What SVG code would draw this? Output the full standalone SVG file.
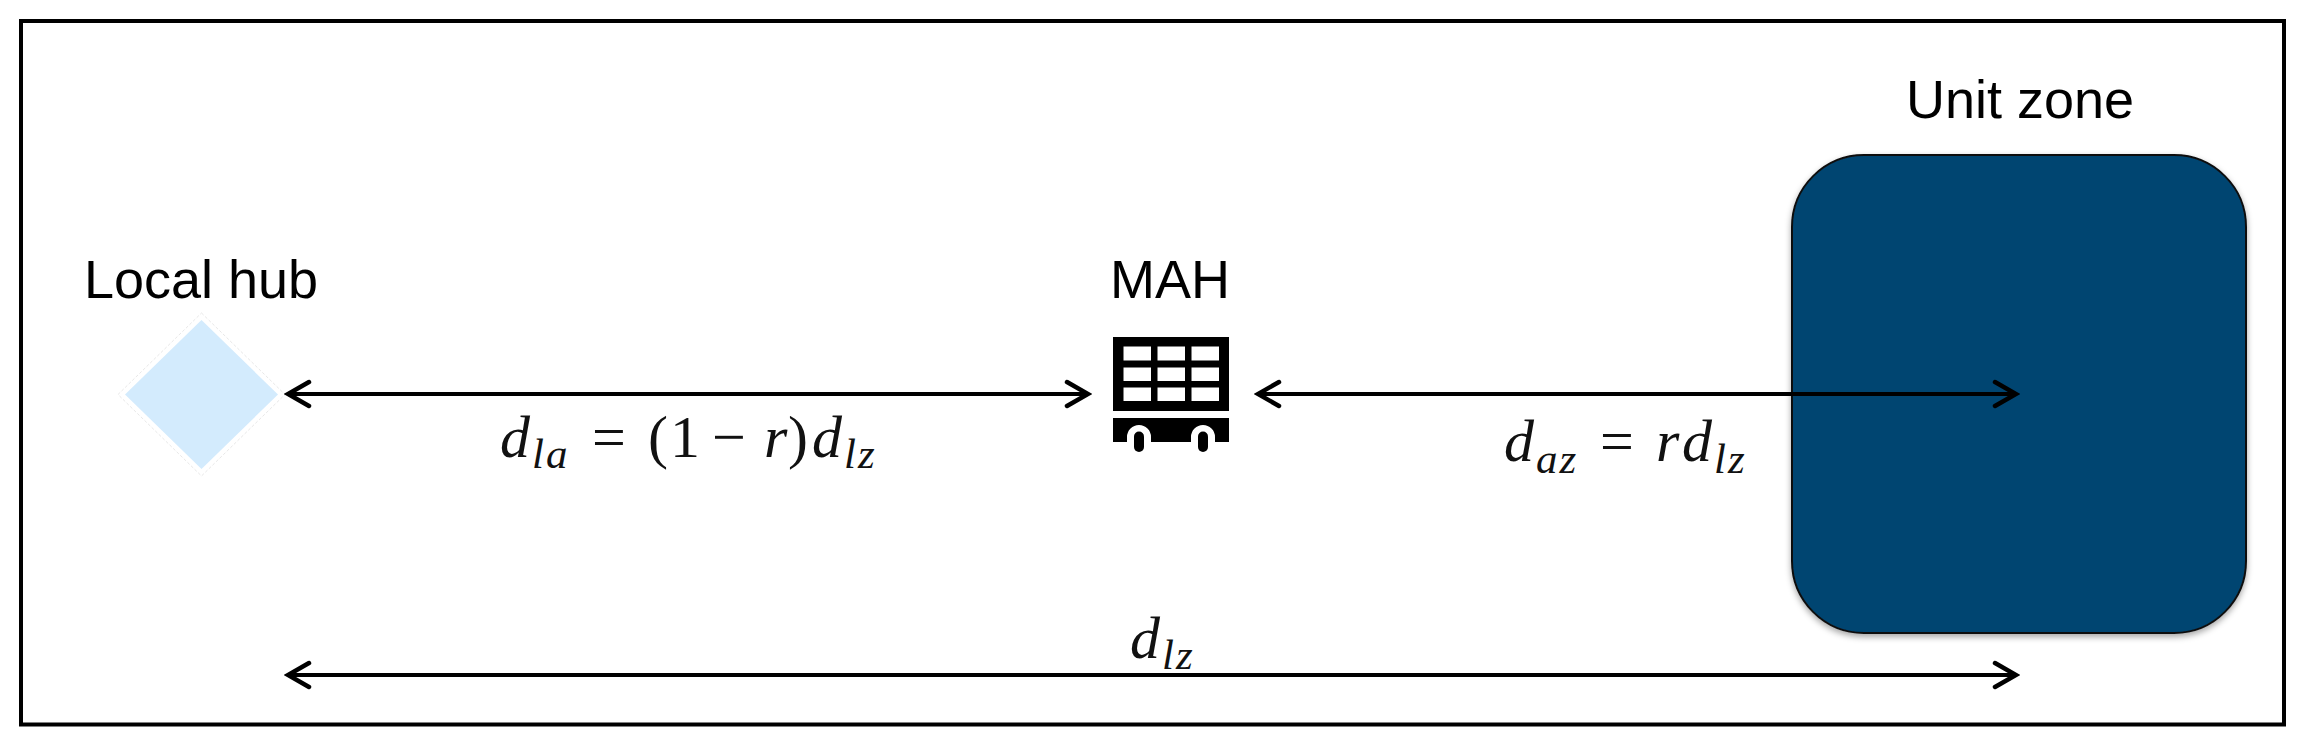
<svg xmlns="http://www.w3.org/2000/svg" width="2298" height="745" viewBox="0 0 2298 745">
<style>
.lbl{font-family:"Liberation Sans",Arial,sans-serif;font-size:54px;fill:#000;text-anchor:middle}
.m{font-family:"Liberation Serif","Times New Roman",serif;font-style:italic;font-size:60px;fill:#111}
.s{font-family:"Liberation Serif","Times New Roman",serif;font-style:italic;font-size:43px;letter-spacing:2px;fill:#111}
.u{font-family:"Liberation Serif","Times New Roman",serif;font-size:60px;fill:#111}
.c{fill:none;stroke:#000;stroke-width:4;marker-start:url(#h);marker-end:url(#h)}
</style>
<defs>
<marker id="h" viewBox="-26 -15 30 30" refX="0" refY="0" markerWidth="30" markerHeight="30" markerUnits="userSpaceOnUse" orient="auto-start-reverse">
<path d="M-21,-12 L0,0 L-21,12" fill="none" stroke="#000" stroke-width="4.5" stroke-linecap="round" stroke-linejoin="miter"/>
</marker>
<filter id="sh" x="-5%" y="-5%" width="110%" height="110%">
<feDropShadow dx="0" dy="3" stdDeviation="3" flood-color="#000" flood-opacity="0.35"/>
</filter>
</defs>
<rect width="2298" height="745" fill="#fff"/>
<rect id="frame" x="21" y="21" width="2263" height="703.500" fill="none" stroke="#000" stroke-width="4"/>
<g id="unit-zone">
<rect x="1792" y="155" width="454" height="478" rx="72" ry="72" fill="#024571" stroke="#111" stroke-width="2" filter="url(#sh)"/>
<text class="lbl" x="2020" y="118">Unit zone</text>
</g>
<g id="local-hub">
<polygon points="201.500,313 285,394.500 201.500,476 118,394.500" fill="#fff" stroke="#e8e8e8" stroke-width="1" stroke-dasharray="3 2"/>
<polygon points="201.500,320 278,394.500 201.500,469 125,394.500" fill="#D3EBFD"/>
<text class="lbl" x="201" y="298">Local hub</text>
</g>
<g id="mah">
<text class="lbl" x="1170" y="298">MAH</text>
<path fill-rule="evenodd" fill="#000" d="M1113,337H1229V411H1113Z M1123.500,346.500V360.500H1151V346.500Z M1157.500,346.500V360.500H1185V346.500Z M1191.500,346.500V360.500H1219V346.500Z M1123.500,367.500V381H1151V367.500Z M1157.500,367.500V381H1185V367.500Z M1191.500,367.500V381H1219V367.500Z M1123.500,387.500V401H1151V387.500Z M1157.500,387.500V401H1185V387.500Z M1191.500,387.500V401H1219V387.500Z"/>
<path fill="#000" d="M1113,418H1229V442H1215V437A12,12 0 0 0 1191,437V442H1151V437A12,12 0 0 0 1127,437V442H1113Z"/>
<rect x="1134" y="431.500" width="10" height="20.500" rx="5" fill="#000"/>
<rect x="1198" y="431.500" width="10" height="20.500" rx="5" fill="#000"/>
</g>
<g id="connectors">
<line class="c" x1="288" y1="394" x2="1088" y2="394"/>
<line class="c" x1="1258" y1="394" x2="2016" y2="394"/>
<line class="c" x1="288" y1="675" x2="2016" y2="675"/>
</g>
<g id="labels">
<text class="m" x="500" y="457">d</text><text class="s" x="532" y="468">la</text>
<text class="u" x="592" y="457">=</text>
<text class="u" x="648" y="457">(</text><text class="u" x="670" y="457">1</text>
<text class="u" x="712" y="457">−</text>
<text class="m" x="764" y="457">r</text>
<text class="u" x="788" y="457">)</text>
<text class="m" x="812" y="457">d</text><text class="s" x="844" y="468">lz</text>
<text class="m" x="1504" y="461">d</text><text class="s" x="1536" y="473">az</text>
<text class="u" x="1600" y="461">=</text>
<text class="m" x="1656" y="461">r</text>
<text class="m" x="1682" y="461">d</text><text class="s" x="1714" y="473">lz</text>
<text class="m" x="1130" y="658">d</text><text class="s" x="1162" y="669">lz</text>
</g>
</svg>
